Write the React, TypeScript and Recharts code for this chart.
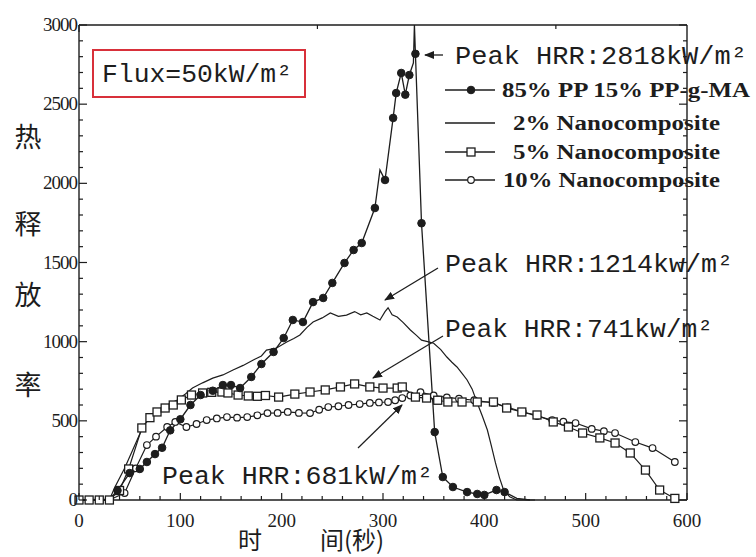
import React from 'react';
import { LineChart, Line, XAxis, YAxis } from 'recharts';

const W = 756;
const H = 557;
const LEFT = 79;
const TOP = 25;
const RIGHT = 687;
const BOTTOM = 500;
const INK = '#1d1d1d';

// [time (s), HRR (kW/m²), marker? (0 = no marker)]
const pp15: number[][] = [
  [0, 0, 0], [30, 5, 0], [38, 60], [50, 170], [60, 196], [67, 240], [75, 290], [82, 330],
  [90, 440], [100, 510], [110, 600], [120, 663], [132, 690], [142, 726], [150, 726],
  [159, 707], [170, 777], [180, 859], [192, 935], [202, 1023], [211, 1137], [221, 1124],
  [231, 1250], [241, 1276], [250, 1371], [262, 1497], [271, 1579], [279, 1623],
  [292, 1844], [297, 2084, 0], [302, 2021], [310, 2413], [313, 2570], [318, 2697],
  [322, 2560], [326, 2684], [330, 2760, 0], [331, 3000, 0], [332, 2818], [338, 1748],
  [351, 429], [359, 145], [369, 82], [383, 50], [393, 38], [400, 32], [412, 63],
  [420, 50], [432, 10, 0], [445, 0, 0],
];

const nano2: number[][] = [
  [0, 0], [30, 0], [35, 76], [45, 200], [53, 316], [63, 461], [70, 520], [77, 568],
  [87, 600], [97, 632], [105, 670], [112, 707], [122, 740], [132, 770], [142, 790],
  [152, 821], [162, 850], [172, 884], [180, 910], [185, 947], [195, 960], [205, 998],
  [212, 1020], [218, 1042], [225, 1090], [231, 1124], [240, 1150], [248, 1181],
  [256, 1160], [264, 1168], [272, 1190], [278, 1170], [284, 1181], [290, 1160],
  [297, 1137], [302, 1190], [305, 1214], [309, 1170], [314, 1156], [320, 1120],
  [327, 1074], [333, 1040], [338, 1010], [344, 1000], [350, 990], [357, 950],
  [363, 903], [368, 870], [373, 840], [378, 800], [383, 758], [388, 700], [393, 613],
  [398, 530], [403, 442], [407, 340], [411, 234], [415, 140], [419, 63], [425, 20],
  [432, 0], [450, 0],
];

const nano5: number[][] = [
  [0, 0], [10, 0], [20, 0], [30, 0], [40, 60], [49, 196], [62, 455], [70, 520],
  [77, 556], [85, 581], [93, 600], [101, 632], [111, 663], [122, 676], [131, 680],
  [141, 682], [147, 676], [157, 663], [167, 657], [176, 655], [184, 660], [197, 650],
  [213, 669], [228, 682], [243, 695], [258, 714], [272, 733], [287, 714], [300, 707],
  [314, 707], [319, 714], [332, 650], [343, 644], [354, 630], [364, 619], [378, 619],
  [393, 619], [409, 619], [422, 581], [437, 556], [452, 537], [468, 493], [483, 461],
  [497, 423], [514, 392], [529, 360], [544, 297], [559, 189], [573, 63], [588, 10],
];

const nano10: number[][] = [
  [0, 0], [10, 0], [20, 0], [30, 0], [45, 44], [56, 200], [67, 347], [76, 400],
  [87, 461], [95, 493], [106, 461], [116, 480], [126, 505], [136, 515], [146, 524],
  [156, 520], [166, 524], [176, 535], [186, 549], [196, 550], [206, 556], [217, 550],
  [228, 549], [237, 570], [246, 587], [256, 592], [266, 600], [277, 606], [287, 613],
  [296, 616], [305, 619], [312, 630], [319, 644], [327, 660], [337, 681], [350, 660],
  [363, 648], [375, 640], [390, 630], [409, 613], [423, 585], [438, 556], [452, 530],
  [467, 505], [478, 495], [490, 486], [506, 449], [518, 435], [529, 423], [549, 366],
  [566, 328], [588, 240],
];

const xLabels = [0, 100, 200, 300, 400, 500, 600];
const yLabels = [0, 500, 1000, 1500, 2000, 2500, 3000];
const xTicks = Array.from({ length: 31 }, (_, i) => i * 20);
const yTicks = Array.from({ length: 31 }, (_, i) => i * 100);

const legendItems = [
  { name: '85% PP 15% PP-g-MA', marker: 'dot', x: 502 },
  { name: '2% Nanocomposite', marker: 'none', x: 513 },
  { name: '5% Nanocomposite', marker: 'square', x: 513 },
  { name: '10% Nanocomposite', marker: 'circle', x: 503 },
];

const toRows = (pts: number[][]) => pts.map(([t, v, m]) => ({ t, v, m: m !== 0 }));

function Marker({ kind, cx, cy }: { kind: string; cx: number; cy: number }) {
  if (kind === 'dot') return <circle cx={cx} cy={cy} r={3.8} fill={INK} stroke={INK} />;
  if (kind === 'square')
    return <rect x={cx - 4} y={cy - 4} width={8} height={8} fill="#fff" stroke={INK} strokeWidth={1.3} />;
  if (kind === 'circle') return <circle cx={cx} cy={cy} r={3.3} fill="#fff" stroke={INK} strokeWidth={1.2} />;
  return null;
}

const makeDot = (kind: string) => (p: any) => {
  const key = `${kind}-${p.index}`;
  if (!p.payload?.m || p.cx == null) return <g key={key} />;
  return (
    <g key={key}>
      <Marker kind={kind} cx={p.cx} cy={p.cy} />
    </g>
  );
};

const serif = '"Liberation Serif", "Times New Roman", serif';
const mono = '"Liberation Mono", "Courier New", monospace';
const cjk = '"Noto Sans CJK SC", sans-serif';

const tickText = { fontFamily: serif, fontSize: 19, fill: INK };

const BottomTick = (p: any) => {
  const v = p.payload.value;
  const major = v % 100 === 0;
  return (
    <g>
      <line x1={p.x} x2={p.x} y1={BOTTOM} y2={BOTTOM - (major ? 7 : 4)} stroke={INK} strokeWidth={1.2} />
      {xLabels.includes(v) && (
        <text x={p.x} y={BOTTOM + 27} textAnchor="middle" style={tickText}>{v}</text>
      )}
    </g>
  );
};

const TopTick = (p: any) => {
  const major = p.payload.value % 100 === 0;
  return <line x1={p.x} x2={p.x} y1={TOP} y2={TOP + (major ? 7 : 4)} stroke={INK} strokeWidth={1.2} />;
};

const LeftTick = (p: any) => {
  const v = p.payload.value;
  const major = v % 500 === 0;
  return (
    <g>
      <line x1={LEFT} x2={LEFT + (major ? 8 : 4)} y1={p.y} y2={p.y} stroke={INK} strokeWidth={1.2} />
      {yLabels.includes(v) && (
        <text x={LEFT - 2} y={p.y + 6} textAnchor="end" style={{ ...tickText, letterSpacing: -1 }}>{v}</text>
      )}
    </g>
  );
};

const RightTick = (p: any) => {
  const major = p.payload.value % 500 === 0;
  return <line x1={RIGHT} x2={RIGHT - (major ? 8 : 4)} y1={p.y} y2={p.y} stroke={INK} strokeWidth={1.2} />;
};

const monoText = { fontFamily: mono, fontSize: 25, fill: INK };

function Overlay() {
  return (
    <svg width={W} height={H} style={{ position: 'absolute', left: 0, top: 0, pointerEvents: 'none' }}>
      <defs>
        <marker id="ah" markerWidth="10" markerHeight="8" refX="9" refY="4" orient="auto" markerUnits="userSpaceOnUse">
          <path d="M0,0 L10,4 L0,8 z" fill={INK} />
        </marker>
      </defs>
      {/* flux box */}
      <rect x={93} y={50} width={212} height={47} fill="#fff" stroke="#d8303a" strokeWidth={2} />
      <text x={102} y={82} textLength={190} lengthAdjust="spacingAndGlyphs" style={monoText}>
        Flux=50kW/m²
      </text>

      {/* peak annotations */}
      <text x={455} y={64} textLength={292} lengthAdjust="spacingAndGlyphs" style={monoText}>
        Peak HRR:2818kW/m²
      </text>
      <line x1={443} y1={55} x2={425} y2={55} stroke={INK} strokeWidth={1.3} markerEnd="url(#ah)" />

      <text x={445} y={272} textLength={288} lengthAdjust="spacingAndGlyphs" style={monoText}>
        Peak HRR:1214kw/m²
      </text>
      <line x1={438} y1={268} x2={385} y2={300} stroke={INK} strokeWidth={1.3} markerEnd="url(#ah)" />

      <text x={445} y={337} textLength={268} lengthAdjust="spacingAndGlyphs" style={monoText}>
        Peak HRR:741kw/m²
      </text>
      <line x1={443} y1={336} x2={373} y2={378} stroke={INK} strokeWidth={1.2} markerEnd="url(#ah)" />

      <text x={162} y={484} textLength={271} lengthAdjust="spacingAndGlyphs" style={monoText}>
        Peak HRR:681kW/m²
      </text>
      <line x1={358} y1={448} x2={402} y2={405} stroke={INK} strokeWidth={1.2} markerEnd="url(#ah)" />

      {/* legend */}
      {legendItems.map((it, i) => {
        const y = [90, 123, 152, 180][i];
        return (
          <g key={it.name}>
            <line x1={445} x2={495} y1={y} y2={y} stroke={INK} strokeWidth={1.4} />
            <Marker kind={it.marker} cx={471} cy={y} />
            <text
              x={it.x}
              y={y + 7}
              textLength={(it.x === 502 ? 750 : 720) - it.x}
              lengthAdjust="spacingAndGlyphs"
              style={{ fontFamily: serif, fontWeight: 'bold', fontSize: 20, fill: INK }}
            >
              {it.name}
            </text>
          </g>
        );
      })}

      {/* axis titles */}
      {['热', '释', '放', '率'].map((c, i) => (
        <text
          key={c}
          x={28}
          y={[137, 224, 295, 385][i] + 10}
          textAnchor="middle"
          style={{ fontFamily: cjk, fontSize: 27, fill: INK }}
        >
          {c}
        </text>
      ))}
      <text x={250} y={549} textAnchor="middle" style={{ fontFamily: cjk, fontSize: 24, fill: INK }}>
        时
      </text>
      <text x={320} y={549} style={{ fontFamily: cjk, fontSize: 24, fill: INK }}>
        间(秒)
      </text>
    </svg>
  );
}

export default function App() {
  return (
    <div style={{ position: 'absolute', left: 0, top: 0, width: W, height: H, background: '#fff' }}>
      <LineChart width={W} height={H} margin={{ top: 0, right: 9, bottom: 27, left: 19 }}>
        <XAxis
          xAxisId="b"
          dataKey="t"
          type="number"
          domain={[0, 600]}
          ticks={xTicks}
          interval={0}
          height={30}
          axisLine={{ stroke: INK, strokeWidth: 1.4 }}
          tickLine={false}
          tick={<BottomTick />}
        />
        <XAxis
          xAxisId="top"
          orientation="top"
          type="number"
          domain={[0, 600]}
          ticks={xTicks}
          interval={0}
          height={25}
          axisLine={{ stroke: INK, strokeWidth: 1.4 }}
          tickLine={false}
          tick={<TopTick />}
        />
        <YAxis
          yAxisId="l"
          type="number"
          domain={[0, 3000]}
          ticks={yTicks}
          interval={0}
          width={60}
          axisLine={{ stroke: INK, strokeWidth: 1.4 }}
          tickLine={false}
          tick={<LeftTick />}
        />
        <YAxis
          yAxisId="r"
          orientation="right"
          type="number"
          domain={[0, 3000]}
          ticks={yTicks}
          interval={0}
          width={60}
          axisLine={{ stroke: INK, strokeWidth: 1.4 }}
          tickLine={false}
          tick={<RightTick />}
        />
        <Line xAxisId="b" yAxisId="l" data={toRows(nano10)} dataKey="v" type="linear" stroke={INK} strokeWidth={1.2} dot={makeDot('circle')} isAnimationActive={false} />
        <Line xAxisId="b" yAxisId="l" data={toRows(nano5)} dataKey="v" type="linear" stroke={INK} strokeWidth={1.2} dot={makeDot('square')} isAnimationActive={false} />
        <Line xAxisId="b" yAxisId="l" data={toRows(nano2)} dataKey="v" type="linear" stroke={INK} strokeWidth={1.2} dot={false} isAnimationActive={false} />
        <Line xAxisId="b" yAxisId="l" data={toRows(pp15)} dataKey="v" type="linear" stroke={INK} strokeWidth={1.3} dot={makeDot('dot')} isAnimationActive={false} />
        <Line xAxisId="top" yAxisId="r" data={toRows(nano10)} dataKey="v" type="linear" stroke="none" dot={false} isAnimationActive={false} />
      </LineChart>
      <Overlay />
    </div>
  );
}
